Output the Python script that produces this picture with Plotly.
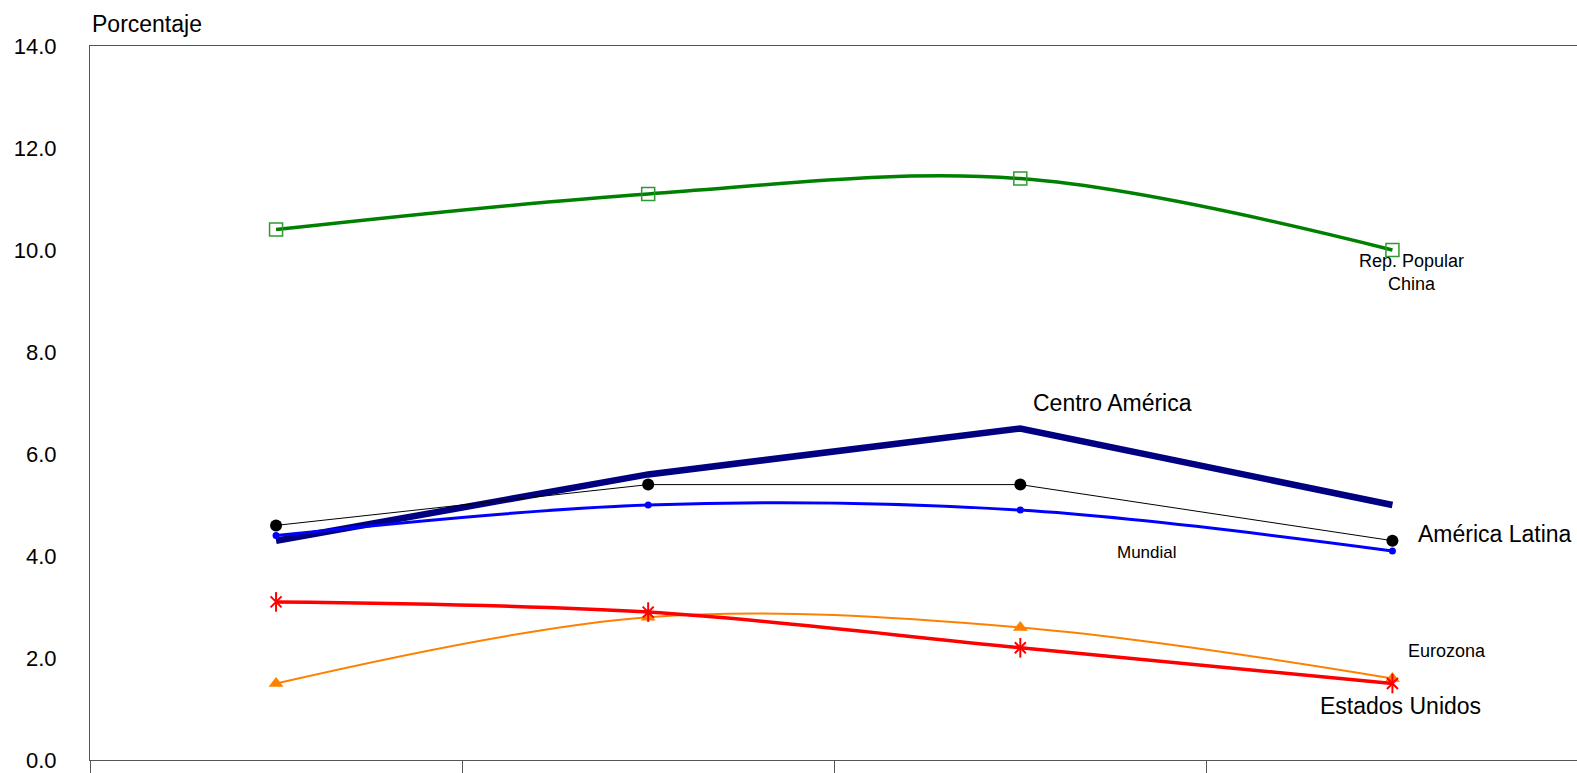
import plotly.graph_objects as go

# Period index (four periods along the horizontal axis)
periodos = [0, 1, 2, 3]

china = [10.4, 11.1, 11.4, 10.0]
centro_america = [4.3, 5.6, 6.5, 5.0]
america_latina = [4.6, 5.4, 5.4, 4.3]
mundial = [4.4, 5.0, 4.9, 4.1]
eurozona = [1.5, 2.8, 2.6, 1.6]
estados_unidos = [3.1, 2.9, 2.2, 1.5]

y_ticks = [0, 2, 4, 6, 8, 10, 12, 14]
x_bounds = [-0.5, 0.5, 1.5, 2.5, 3.5]

FONT = "Liberation Sans, Arial, sans-serif"

fig = go.Figure()

fig.add_trace(go.Scatter(
    x=periodos, y=china, mode="lines+markers",
    line=dict(color="#008000", width=3.5, shape="spline", smoothing=1),
    marker=dict(symbol="square-open", size=13, color="#2e9a2e", line=dict(width=1.5)),
))
fig.add_trace(go.Scatter(
    x=periodos, y=centro_america, mode="lines",
    line=dict(color="#000080", width=6.5),
))
fig.add_trace(go.Scatter(
    x=periodos, y=mundial, mode="lines+markers",
    line=dict(color="#0000FF", width=3, shape="spline", smoothing=1),
    marker=dict(symbol="circle", size=7, color="#0000FF"),
))
fig.add_trace(go.Scatter(
    x=periodos, y=america_latina, mode="lines+markers",
    line=dict(color="#000000", width=1),
    marker=dict(symbol="circle", size=12, color="#000000"),
))
fig.add_trace(go.Scatter(
    x=periodos, y=eurozona, mode="lines+markers",
    line=dict(color="#FF8000", width=2, shape="spline", smoothing=1),
    marker=dict(symbol="triangle-up", size=13, color="#FF8000"),
))
fig.add_trace(go.Scatter(
    x=periodos, y=estados_unidos, mode="lines",
    line=dict(color="#FF0000", width=3.5, shape="spline", smoothing=1),
))
# Star marker for Estados Unidos: an "x" plus a vertical stroke
fig.add_trace(go.Scatter(
    x=periodos, y=estados_unidos, mode="markers",
    marker=dict(symbol="x-thin-open", size=11, color="#FF0000", line=dict(color="#FF0000", width=2)),
))
fig.add_trace(go.Scatter(
    x=periodos, y=estados_unidos, mode="markers",
    marker=dict(symbol="line-ns-open", size=14, color="#FF0000", line=dict(color="#FF0000", width=2)),
))

def label(text, x, y, size, xanchor="left", align="left", yref="y"):
    fig.add_annotation(x=x, y=y, xref="x", yref=yref, text=text, showarrow=False,
                       xanchor=xanchor, yanchor="middle", align=align,
                       font=dict(family=FONT, size=size, color="#000000"))

label("Porcentaje", -0.5, 1.031, 23, yref="paper")
label("Rep. Popular<br>China", 3.05, 9.55, 18, xanchor="center", align="center")
label("Centro América", 2.028, 7.0, 23)
label("América Latina", 3.063, 4.43, 23)
label("Mundial", 2.34, 4.06, 17, xanchor="center")
label("Eurozona", 3.036, 2.13, 18)
label("Estados Unidos", 3.023, 1.05, 23, xanchor="center")

fig.update_layout(
    width=1577, height=773,
    margin=dict(l=90, r=0, t=46, b=13),
    paper_bgcolor="#FFFFFF", plot_bgcolor="#FFFFFF",
    showlegend=False,
    font=dict(family=FONT, size=17, color="#000000"),
)
fig.update_xaxes(
    range=[-0.5, 3.496], showgrid=False, zeroline=False,
    showline=True, linecolor="#555555", linewidth=1, mirror=True,
    tickvals=x_bounds, ticktext=["" for _ in x_bounds],
    ticks="outside", ticklen=14, tickcolor="#555555", tickwidth=1,
)
fig.update_yaxes(
    range=[0, 14], showgrid=False, zeroline=False,
    showline=True, linecolor="#555555", linewidth=1,
    tickvals=y_ticks, tickformat=".1f", ticks="",
    ticklabelstandoff=28, tickfont=dict(size=22),
)

fig.write_html("out.html")
